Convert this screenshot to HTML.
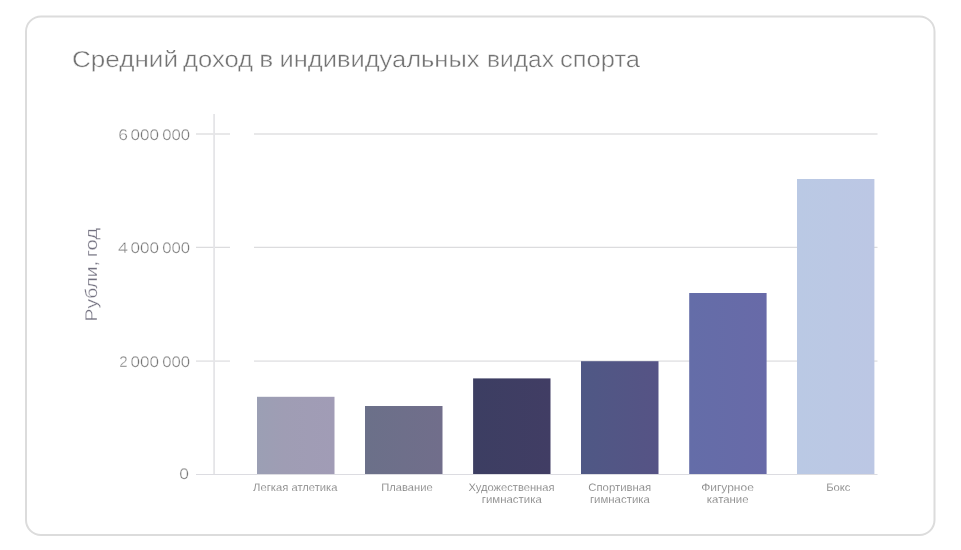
<!DOCTYPE html>
<html lang="ru">
<head>
<meta charset="utf-8">
<title>Средний доход в индивидуальных видах спорта</title>
<style>
html,body{margin:0;padding:0;background:#ffffff;}
body{width:961px;height:550px;overflow:hidden;font-family:"Liberation Sans",sans-serif;}
svg{display:block;will-change:transform;}
text{font-family:"Liberation Sans",sans-serif;text-rendering:geometricPrecision;}
.title{font-size:23px;fill:#737373;stroke:#ffffff;stroke-width:0.4px;}
.ylab{font-size:15.3px;fill:#757575;stroke:#ffffff;stroke-width:0.35px;}
.xlab{font-size:10.8px;fill:#808080;stroke:#ffffff;stroke-width:0.12px;}
.yt{font-size:17px;fill:#72707f;stroke:#ffffff;stroke-width:0.3px;}
</style>
</head>
<body>
<svg width="961" height="550" viewBox="0 0 961 550">
  <rect x="0" y="0" width="961" height="550" fill="#ffffff"/>
  <!-- card -->
  <rect x="26" y="16.5" width="908.5" height="518.5" rx="15" ry="15" fill="#ffffff" stroke="#dcdcdc" stroke-width="2"/>

  <!-- title -->
  <g class="title">
    <text x="72" y="66.7" textLength="106" lengthAdjust="spacingAndGlyphs">Средний</text>
    <text x="183" y="66.7" textLength="70" lengthAdjust="spacingAndGlyphs">доход</text>
    <text x="259.3" y="66.7" textLength="14" lengthAdjust="spacingAndGlyphs">в</text>
    <text x="279.5" y="66.7" textLength="200" lengthAdjust="spacingAndGlyphs">индивидуальных</text>
    <text x="487" y="66.7" textLength="67" lengthAdjust="spacingAndGlyphs">видах</text>
    <text x="560" y="66.7" textLength="80" lengthAdjust="spacingAndGlyphs">спорта</text>
  </g>

  <defs>
    <linearGradient id="g1" x1="0" y1="0" x2="1" y2="0"><stop offset="0" stop-color="#9b9fb4"/><stop offset="0.35" stop-color="#9f9db4"/><stop offset="1" stop-color="#a19cb6"/></linearGradient>
    <linearGradient id="g2" x1="0" y1="0" x2="1" y2="0"><stop offset="0" stop-color="#6b7089"/><stop offset="1" stop-color="#716e8b"/></linearGradient>
    <linearGradient id="g3" x1="0" y1="0" x2="1" y2="0"><stop offset="0" stop-color="#3c3e62"/><stop offset="1" stop-color="#413d64"/></linearGradient>
    <linearGradient id="g4" x1="0" y1="0" x2="1" y2="0"><stop offset="0" stop-color="#4f5885"/><stop offset="1" stop-color="#565385"/></linearGradient>
    <linearGradient id="g5" x1="0" y1="0" x2="1" y2="0"><stop offset="0" stop-color="#646da8"/><stop offset="1" stop-color="#686aa8"/></linearGradient>
    <linearGradient id="g6" x1="0" y1="0" x2="1" y2="0"><stop offset="0" stop-color="#bac9e4"/><stop offset="1" stop-color="#bcc7e4"/></linearGradient>
  </defs>
  <!-- gridlines -->
  <g stroke="#e8e8e9" stroke-width="1.9">
    <line x1="254" y1="134" x2="877.5" y2="134"/>
    <line x1="196" y1="134" x2="230" y2="134"/>
  </g>
  <g stroke="#dcdcde" stroke-width="1.1">
    <line x1="254" y1="247.4" x2="877.5" y2="247.4"/>
    <line x1="196" y1="247.4" x2="230" y2="247.4"/>
  </g>
  <g stroke="#e7e7e9" stroke-width="1.6">
    <line x1="254" y1="361.1" x2="877.5" y2="361.1"/>
    <line x1="196" y1="361.1" x2="230" y2="361.1"/>
  </g>
  <!-- y axis -->
  <line x1="214.1" y1="114" x2="214.1" y2="474.5" stroke="#e5e5e8" stroke-width="1.8"/>

  <!-- bars -->
  <rect x="257" y="396.8" width="77.5" height="77.7" fill="url(#g1)"/>
  <rect x="365" y="406" width="77.5" height="68.5" fill="url(#g2)"/>
  <rect x="473.1" y="378.4" width="77.4" height="96.1" fill="url(#g3)"/>
  <rect x="581" y="361.2" width="77.5" height="113.3" fill="url(#g4)"/>
  <rect x="689.2" y="293" width="77.4" height="181.5" fill="url(#g5)"/>
  <rect x="797" y="179" width="77.4" height="295.5" fill="url(#g6)"/>

  <!-- baseline -->
  <line x1="196" y1="474.5" x2="877.5" y2="474.5" stroke="#dcdce1" stroke-width="1.2"/>

  <!-- y labels -->
  <g class="ylab">
    <text x="118.3" y="139.6" textLength="9.7" lengthAdjust="spacingAndGlyphs">6</text>
    <text x="130.4" y="139.6" textLength="28.5" lengthAdjust="spacingAndGlyphs">000</text>
    <text x="162.2" y="139.6" textLength="27.9" lengthAdjust="spacingAndGlyphs">000</text>
    <text x="117.9" y="253" textLength="9.9" lengthAdjust="spacingAndGlyphs">4</text>
    <text x="130.4" y="253" textLength="28.5" lengthAdjust="spacingAndGlyphs">000</text>
    <text x="162.2" y="253" textLength="27.9" lengthAdjust="spacingAndGlyphs">000</text>
    <text x="119.3" y="366.8" textLength="8.4" lengthAdjust="spacingAndGlyphs">2</text>
    <text x="130.4" y="366.8" textLength="28.5" lengthAdjust="spacingAndGlyphs">000</text>
    <text x="162.2" y="366.8" textLength="27.9" lengthAdjust="spacingAndGlyphs">000</text>
    <text x="179.2" y="478.7" textLength="9.7" lengthAdjust="spacingAndGlyphs">0</text>
  </g>

  <!-- y title -->
  <g class="yt">
    <text transform="translate(96.9,321.4) rotate(-90)" textLength="60.2" lengthAdjust="spacingAndGlyphs">Рубли,</text>
    <text transform="translate(96.9,257.3) rotate(-90)" textLength="29.4" lengthAdjust="spacingAndGlyphs">год</text>
  </g>

  <!-- x labels -->
  <g class="xlab" text-anchor="middle">
    <text x="295.3" y="491" textLength="84.5" lengthAdjust="spacingAndGlyphs">Легкая атлетика</text>
    <text x="406.9" y="491" textLength="51.5" lengthAdjust="spacingAndGlyphs">Плавание</text>
    <text x="511.5" y="491" textLength="86" lengthAdjust="spacingAndGlyphs">Художественная</text>
    <text x="511.8" y="503.2" textLength="60" lengthAdjust="spacingAndGlyphs">гимнастика</text>
    <text x="619.75" y="491" textLength="63" lengthAdjust="spacingAndGlyphs">Спортивная</text>
    <text x="619.9" y="503.2" textLength="60" lengthAdjust="spacingAndGlyphs">гимнастика</text>
    <text x="727.5" y="491" textLength="52.7" lengthAdjust="spacingAndGlyphs">Фигурное</text>
    <text x="727.7" y="503.2" textLength="41.7" lengthAdjust="spacingAndGlyphs">катание</text>
    <text x="838.3" y="491" textLength="24.3" lengthAdjust="spacingAndGlyphs">Бокс</text>
  </g>
</svg>
</body>
</html>
